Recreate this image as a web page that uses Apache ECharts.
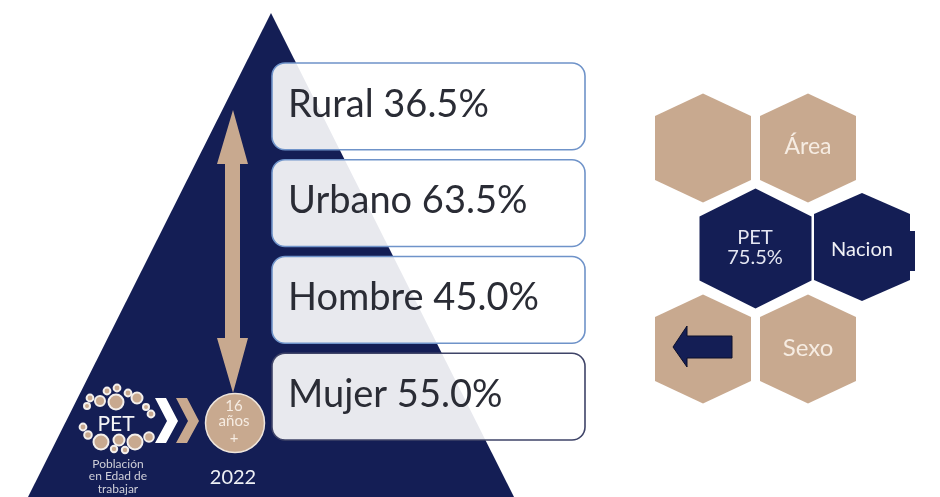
<!DOCTYPE html>
<html>
<head>
<meta charset="utf-8">
<style>
html,body{margin:0;padding:0;background:#fff;}
#main{width:940px;height:497px;}
</style>
</head>
<body>
<div id="main"></div>
<script src="https://cdn.jsdelivr.net/npm/echarts@6/dist/echarts.min.js"></script>
<script>
var categories = ['Rural', 'Urbano', 'Hombre', 'Mujer'];
var shares = [36.5, 63.5, 45.0, 55.0];
var petShare = 75.5;
var year = '2022';
var ageLines = ['16', 'años', '+'];
var petLines = ['Población', 'en Edad de', 'trabajar'];
var hexLabels = ['', 'Área', 'Nacion', '', 'Sexo'];

var NAVY = '#141e55';
var TAN = '#c8a98f';
var CREAM = '#f6ece2';
var FONT = 'Lato';

function hex(cx, cy, hw, hh, sh) {
	return [[cx, cy - hh], [cx + hw, cy - sh], [cx + hw, cy + sh], [cx, cy + hh], [cx - hw, cy + sh], [cx - hw, cy - sh]];
}
function poly(points, fill, extra) {
	var o = {type: 'polygon', shape: {points: points}, style: {fill: fill}};
	if (extra) { o.style.stroke = extra.stroke; o.style.lineWidth = extra.lineWidth; }
	return o;
}
function label(text, x, y, size, color, weight) {
	return {type: 'text', x: x, y: y, style: {text: text, x: 0, y: 0, align: 'center', verticalAlign: 'middle',
		font: (weight || 400) + ' ' + size + 'px ' + FONT, fill: color}};
}
function dot(x, y, r) {
	return {type: 'circle', shape: {cx: x, cy: y, r: r}, style: {fill: TAN, stroke: '#f3efec', lineWidth: 2}};
}

var graphics = [];
// pyramid
graphics.push(poly([[271, 13], [514, 497], [28, 497]], NAVY));
// double arrow
graphics.push(poly([[233, 110], [248, 164], [240, 164], [240, 338], [248, 338], [233, 393], [217, 338], [225, 338], [225, 164], [217, 164]], TAN));

// logo
var rings = [[116, 402, 7.5], [100, 401, 5], [137, 398, 5.5], [101, 442, 7.5], [119, 440, 5.5], [135, 442, 7.5],
	[107, 391, 3.4], [117, 388, 3.4], [128, 393, 3.4], [90, 398, 3.4], [87, 406, 3], [146, 407, 3], [151, 414, 3.4],
	[83, 427, 3.4], [88, 435, 3.8], [149, 437, 4.8], [114, 449, 3.2], [125, 450, 3.2]];
rings.forEach(function (r) { graphics.push(dot(r[0], r[1], r[2])); });
graphics.push(label('PET', 116, 424, 21, '#f4f4f6'));
petLines.forEach(function (t, i) { graphics.push(label(t, 118, 464 + i * 12.5, 12, '#cfcfd8')); });
graphics.push(poly([[155, 398], [166, 398], [178, 421], [166, 443], [155, 443], [167, 421]], '#ffffff'));
graphics.push(poly([[176, 398], [187, 398], [199, 421], [187, 443], [176, 443], [188, 421]], TAN));

// age badge
graphics.push({type: 'circle', shape: {cx: 235, cy: 423, r: 29.5}, style: {fill: TAN, stroke: '#eee5dd', lineWidth: 1.5}});
graphics.push(label(ageLines[0], 234, 406, 15, CREAM));
graphics.push(label(ageLines[1], 234, 421, 15, CREAM));
graphics.push(label(ageLines[2], 234, 438, 15, CREAM));
graphics.push(label(year, 233, 478, 20, '#eef0f5'));

// hexagons
graphics.push(poly(hex(703, 148, 48, 54.5, 32), TAN));
graphics.push(poly(hex(808, 148, 48, 54.5, 32), TAN));
graphics.push(poly(hex(755.5, 248.5, 56, 60, 32), NAVY));
graphics.push(poly(hex(862, 247, 48, 54, 33), NAVY));
graphics.push({type: 'rect', shape: {x: 905, y: 231, width: 10, height: 40}, style: {fill: NAVY}});
graphics.push(poly(hex(703, 349, 48, 54.5, 32), TAN));
graphics.push(poly(hex(808, 349, 48, 54.5, 32), TAN));
graphics.push(poly([[673, 347], [687, 326], [687, 336], [732, 336], [732, 358], [687, 358], [687, 367]], NAVY, {stroke: '#0b0f2a', lineWidth: 1}));

graphics.push(label(hexLabels[1], 808, 147, 23, CREAM));
graphics.push(label('PET\n' + petShare.toFixed(1) + '%', 755, 248, 20, '#e4e6f2'));
graphics.push(label(hexLabels[2], 862, 250, 20, '#f0f1f6'));
graphics.push(label(hexLabels[4], 808, 348, 24, CREAM));

var cardData = categories.map(function (c, i) { return [i, shares[i]]; });

function renderCard(params, api) {
	var i = api.value(0);
	var start = api.coord([272, i]);
	var band = api.size([0, 1])[1];
	var h = band - 10;
	var last = i === categories.length - 1;
	return {
		type: 'group',
		children: [
			{
				type: 'rect',
				shape: {x: start[0], y: start[1] - h / 2, width: api.size([313, 0])[0], height: h, r: 13},
				style: {fill: 'rgba(255,255,255,0.9)', stroke: last ? '#3f4468' : '#6f93c9', lineWidth: 1.6}
			},
			{
				type: 'text',
				x: start[0] + 16,
				y: start[1] - 2,
				style: {
					text: categories[i] + ' ' + api.value(1).toFixed(1) + '%',
					verticalAlign: 'middle',
					font: '400 38px ' + FONT,
					fill: '#2a2c35'
				}
			}
		]
	};
}

var myChart = echarts.init(document.getElementById('main'), null, {renderer: 'canvas'});
myChart.setOption({
	animation: false,
	backgroundColor: '#ffffff',
	grid: {left: 0, right: 0, top: 58, height: 387},
	xAxis: {type: 'value', min: 0, max: 940, show: false},
	yAxis: {type: 'category', inverse: true, show: false, data: categories},
	graphic: {elements: graphics},
	series: [{
		type: 'custom',
		coordinateSystem: 'cartesian2d',
		renderItem: renderCard,
		encode: {x: -1, y: 0},
		data: cardData,
		z: 5
	}]
});
</script>
</body>
</html>
